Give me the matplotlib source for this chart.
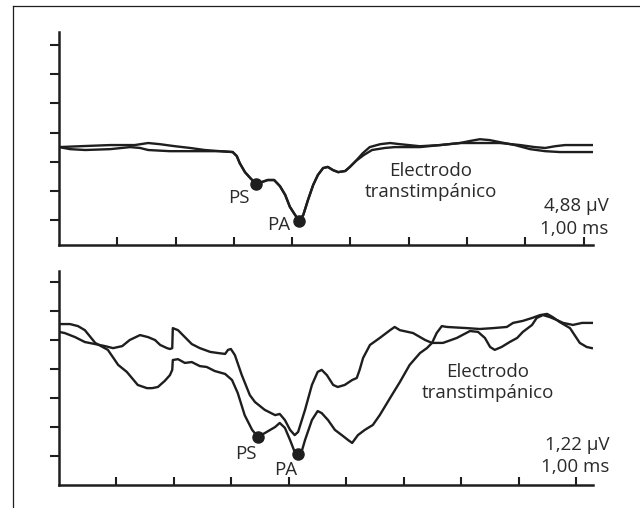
import matplotlib.pyplot as plt
from matplotlib.lines import Line2D

plt.rcParams['font.family'] = ['Open Sans', 'DejaVu Sans']

# time in ms (1 tick = 1,00 ms), amplitude in vertical divisions
# top panel: 1 division = 4.88 uV, bottom panel: 1 division = 1.22 uV
top1_x = [0.00, 0.36, 0.88, 1.30, 1.53, 1.73, 1.99, 2.25, 2.50, 2.76, 2.98, 3.05, 3.10, 3.19,
          3.28, 3.38, 3.48, 3.58, 3.69, 3.79, 3.88, 3.96, 4.05, 4.12, 4.19, 4.27, 4.36, 4.44,
          4.53, 4.61, 4.70, 4.79, 4.91, 4.99, 5.09, 5.21, 5.33, 5.51, 5.68, 5.85, 6.19, 6.54,
          6.88, 7.05, 7.22, 7.39, 7.56, 7.82, 8.08, 8.34, 8.59, 8.85, 9.16]
top1_y = [2.50, 2.53, 2.57, 2.57, 2.64, 2.60, 2.53, 2.47, 2.40, 2.36, 2.33, 2.19, 1.95, 1.64,
          1.44, 1.23, 1.30, 1.37, 1.37, 1.16, 0.86, 0.45, 0.17, -0.03, 0.17, 0.68, 1.20, 1.54,
          1.78, 1.82, 1.71, 1.64, 1.68, 1.82, 2.02, 2.29, 2.50, 2.60, 2.64, 2.60, 2.53, 2.57,
          2.64, 2.71, 2.77, 2.74, 2.67, 2.57, 2.43, 2.36, 2.33, 2.33, 2.33]

top2_x = [0.00, 0.19, 0.45, 0.88, 1.22, 1.39, 1.53, 1.90, 2.42, 2.76, 2.98, 3.05, 3.10, 3.19,
          3.28, 3.38, 3.48, 3.58, 3.69, 3.79, 3.88, 3.96, 4.05, 4.12, 4.19, 4.27, 4.36, 4.44,
          4.53, 4.61, 4.70, 4.79, 4.91, 4.99, 5.09, 5.23, 5.37, 5.59, 5.76, 5.93, 6.19, 6.54,
          6.88, 7.22, 7.56, 7.91, 8.16, 8.34, 8.51, 8.68, 9.16]
top2_y = [2.50, 2.43, 2.40, 2.43, 2.50, 2.47, 2.40, 2.36, 2.36, 2.36, 2.33, 2.19, 1.95, 1.64,
          1.44, 1.23, 1.30, 1.37, 1.37, 1.16, 0.86, 0.45, 0.17, -0.03, 0.17, 0.68, 1.20, 1.54,
          1.78, 1.82, 1.71, 1.64, 1.68, 1.82, 2.02, 2.23, 2.40, 2.47, 2.50, 2.50, 2.50, 2.57,
          2.64, 2.64, 2.64, 2.57, 2.50, 2.47, 2.53, 2.57, 2.57]

bot1_x = [0.00, 0.19, 0.33, 0.45, 0.63, 0.85, 1.03, 1.18, 1.37, 1.53, 1.62, 1.72, 1.84, 1.93,
          1.97, 1.98, 2.07, 2.19, 2.31, 2.45, 2.57, 2.71, 2.89, 3.01, 3.11, 3.23, 3.36, 3.46,
          3.58, 3.76, 3.84, 3.93, 4.02, 4.10, 4.16, 4.23, 4.28, 4.40, 4.50, 4.57, 4.68, 4.80,
          4.92, 5.03, 5.10, 5.20, 5.32, 5.46, 5.58, 5.76, 5.93, 6.10, 6.28, 6.40, 6.49, 6.57,
          6.66, 6.75, 7.10, 7.32, 7.55, 7.79, 7.90, 8.07, 8.23, 8.37, 8.49, 8.59, 8.71, 8.89,
          9.06, 9.18, 9.27]
bot1_y = [4.55, 4.55, 4.48, 4.34, 3.90, 3.66, 3.14, 2.90, 2.45, 2.34, 2.34, 2.38, 2.59, 2.79,
          2.97, 3.31, 3.34, 3.21, 3.24, 3.10, 3.07, 2.93, 2.83, 2.62, 2.17, 1.41, 0.90, 0.66,
          0.79, 1.00, 1.14, 0.97, 0.55, 0.14, 0.07, 0.21, 0.55, 1.24, 1.55, 1.48, 1.24, 0.90,
          0.72, 0.55, 0.45, 0.72, 0.90, 1.07, 1.41, 2.00, 2.55, 3.14, 3.55, 3.72, 3.90, 4.24,
          4.48, 4.45, 4.41, 4.38, 4.41, 4.45, 4.59, 4.66, 4.76, 4.86, 4.90, 4.79, 4.62, 4.41,
          3.90, 3.76, 3.72]

bot2_x = [0.00, 0.10, 0.28, 0.45, 0.63, 0.80, 0.94, 1.10, 1.23, 1.41, 1.55, 1.67, 1.76, 1.88,
          1.93, 1.97, 1.98, 2.07, 2.19, 2.31, 2.45, 2.63, 2.77, 2.89, 2.94, 2.99, 3.06, 3.18,
          3.32, 3.41, 3.58, 3.76, 3.84, 3.93, 4.02, 4.10, 4.16, 4.28, 4.40, 4.50, 4.57, 4.66,
          4.77, 4.85, 4.97, 5.10, 5.18, 5.23, 5.29, 5.41, 5.58, 5.76, 5.84, 5.93, 6.16, 6.37,
          6.49, 6.68, 6.92, 7.15, 7.29, 7.41, 7.50, 7.58, 7.70, 7.84, 7.97, 8.07, 8.23, 8.31,
          8.42, 8.54, 8.66, 8.77, 8.94, 9.10, 9.27]
bot2_y = [4.28, 4.24, 4.10, 3.93, 3.86, 3.79, 3.72, 3.79, 4.00, 4.17, 4.10, 4.00, 3.83, 3.72,
          3.69, 3.72, 4.41, 4.34, 4.10, 3.86, 3.72, 3.59, 3.55, 3.52, 3.66, 3.69, 3.48, 2.79,
          2.10, 1.86, 1.59, 1.41, 1.45, 1.24, 0.90, 0.72, 0.83, 1.59, 2.45, 2.90, 2.97, 2.79,
          2.45, 2.38, 2.45, 2.62, 2.69, 2.97, 3.38, 3.83, 4.07, 4.34, 4.45, 4.34, 4.24, 4.00,
          3.90, 3.90, 4.07, 4.31, 4.28, 4.07, 3.76, 3.66, 3.76, 3.93, 4.07, 4.28, 4.52, 4.76,
          4.86, 4.79, 4.69, 4.59, 4.52, 4.59, 4.59]

# peaks (PS, PA) per panel
top_peaks = {'PS': (3.38, 1.23), 'PA': (4.12, -0.03)}
bot_peaks = {'PS': (3.46, 0.66), 'PA': (4.16, 0.07)}
scale_labels = ['4,88 µV', '1,22 µV']
time_label = '1,00 ms'

INK = '#1e1e1e'
TXT = '#2a2a2a'

fig = plt.figure(figsize=(6.4, 5.08), dpi=100)
fig.patch.set_facecolor('white')

# frame (top and left only)
fig.add_artist(Line2D([13/640, 1.0], [1 - 6/508, 1 - 6/508], color=INK, lw=0.9))
fig.add_artist(Line2D([13/640, 13/640], [0.0, 1 - 6/508], color=INK, lw=0.9))

ax1 = fig.add_axes([59/640, 1 - 245/508, 534/640, 213/508])
ax2 = fig.add_axes([59/640, 1 - 485/508, 534/640, 214/508])


def style(ax, xmax, ylo, yhi):
    ax.set_xlim(0, xmax)
    ax.set_ylim(ylo, yhi)
    for s in ['top', 'right']:
        ax.spines[s].set_visible(False)
    for s in ['left', 'bottom']:
        ax.spines[s].set_linewidth(1.8)
        ax.spines[s].set_color(INK)
    ax.set_xticks(range(1, 10))
    ax.set_yticks(range(0, 7))
    ax.tick_params(axis='x', direction='in', length=5.5, width=1.5, color=INK,
                   labelbottom=False)
    ax.tick_params(axis='y', direction='out', length=6.5, width=1.5, color=INK,
                   labelleft=False)
    ax.patch.set_alpha(0)


style(ax1, 9.16, -0.86, 6.45)
style(ax2, 9.29, -1.0, 6.38)

ax1.plot(top1_x, top1_y, color=INK, lw=1.7, solid_joinstyle='round')
ax1.plot(top2_x, top2_y, color=INK, lw=1.7, solid_joinstyle='round')
ax2.plot(bot1_x, bot1_y, color=INK, lw=1.7, solid_joinstyle='round')
ax2.plot(bot2_x, bot2_y, color=INK, lw=1.7, solid_joinstyle='round')

for ax, peaks in [(ax1, top_peaks), (ax2, bot_peaks)]:
    px = [p[0] for p in peaks.values()]
    py = [p[1] for p in peaks.values()]
    ax.plot(px, py, 'o', color=INK, ms=8, zorder=5)

fs = 13.5
# top panel labels
ax1.text(3.09, 0.75, 'PS', ha='center', va='center', fontsize=fs, color=TXT)
ax1.text(3.77, -0.17, 'PA', ha='center', va='center', fontsize=fs, color=TXT)
ax1.text(6.38, 1.68, 'Electrodo', ha='center', va='center', fontsize=fs, color=TXT)
ax1.text(6.38, 0.96, 'transtimpánico', ha='center', va='center', fontsize=fs, color=TXT)
ax1.text(9.43, 0.48, scale_labels[0], ha='right', va='center', fontsize=fs, color=TXT)
ax1.text(9.43, -0.31, time_label, ha='right', va='center', fontsize=fs, color=TXT)

# bottom panel labels
ax2.text(3.25, 0.07, 'PS', ha='center', va='center', fontsize=fs, color=TXT)
ax2.text(3.95, -0.48, 'PA', ha='center', va='center', fontsize=fs, color=TXT)
ax2.text(7.46, 2.90, 'Electrodo', ha='center', va='center', fontsize=fs, color=TXT)
ax2.text(7.46, 2.17, 'transtimpánico', ha='center', va='center', fontsize=fs, color=TXT)
ax2.text(9.57, 0.38, scale_labels[1], ha='right', va='center', fontsize=fs, color=TXT)
ax2.text(9.57, -0.38, time_label, ha='right', va='center', fontsize=fs, color=TXT)

fig.savefig('out.png', dpi=100)
